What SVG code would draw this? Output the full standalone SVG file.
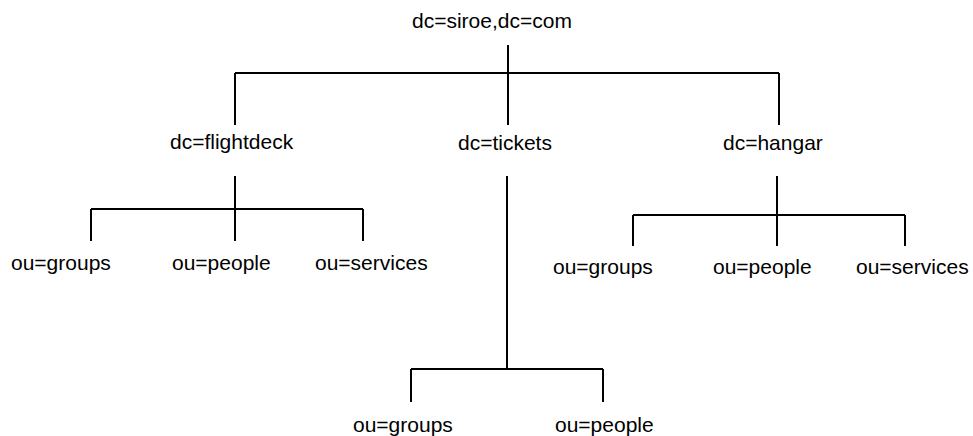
<svg xmlns="http://www.w3.org/2000/svg" width="973" height="436" viewBox="0 0 973 436">
<style>
text{font-family:"Liberation Sans",Arial,sans-serif;font-size:21px;fill:#000}
.c path{fill:none;stroke:#000;stroke-width:2}
</style>
<rect width="973" height="436" fill="#fff"/>
<g class="c" id="connectors">
<path d="M508 45V73M235 73H779M235 73V125M508 73V125M779 73V125"/>
<path d="M235 176V209M91 209H363M91 209V241M235 209V241M363 209V241"/>
<path d="M777 176V215M633 215H905M633 215V246M777 215V246M905 215V246"/>
<path d="M507 176V369M411 369H603M411 369V402M603 369V402"/>
</g>
<g id="root"><text x="412" y="28">dc=siroe,dc=com</text></g>
<g id="flightdeck"><text x="170" y="149">dc=flightdeck</text></g>
<g id="tickets"><text x="458" y="150">dc=tickets</text></g>
<g id="hangar"><text x="723" y="150">dc=hangar</text></g>
<g id="fd-groups"><text x="11" y="270">ou=groups</text></g>
<g id="fd-people"><text x="172" y="270">ou=people</text></g>
<g id="fd-services"><text x="315" y="270">ou=services</text></g>
<g id="hg-groups"><text x="553" y="274">ou=groups</text></g>
<g id="hg-people"><text x="713" y="274">ou=people</text></g>
<g id="hg-services"><text x="856" y="274">ou=services</text></g>
<g id="tk-groups"><text x="353" y="432">ou=groups</text></g>
<g id="tk-people"><text x="555" y="432">ou=people</text></g>
</svg>
